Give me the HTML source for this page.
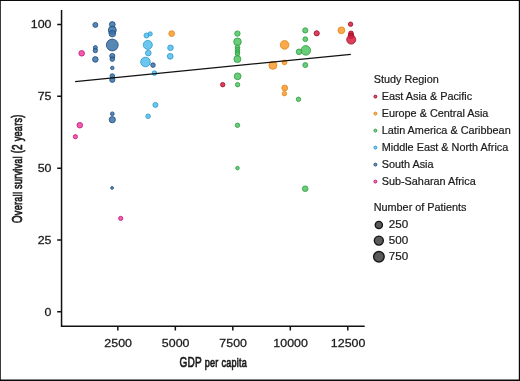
<!DOCTYPE html>
<html><head><meta charset="utf-8">
<style>
html,body{margin:0;padding:0;background:#fff;}
body{width:520px;height:381px;overflow:hidden;}
svg{display:block;}
text{font-family:"Liberation Sans",sans-serif;fill:#1a1a1a;}
#w{will-change:transform;width:520px;height:381px;}
.tk{font-size:11px;stroke:#1a1a1a;stroke-width:0.25px;}
.lg{font-size:10.85px;stroke:#1a1a1a;stroke-width:0.2px;}
.ln{font-size:11px;}
.ax{font-size:13.4px;stroke:#1a1a1a;stroke-width:0.7px;letter-spacing:0.35px;}
</style></head><body>
<div id="w">
<svg width="520" height="381" viewBox="0 0 520 381">
<rect x="0" y="0" width="520" height="381" fill="#fff"/>
<path d="M0 0H520V1.1H0Z M0 0H0.8V381H0Z M0 379.5H520V381H0Z M518.8 0H520V381H518.8Z" fill="#0a0a0a"/>
<!-- axes -->
<path d="M61.55 10 V326.25 H364.7" fill="none" stroke="#111" stroke-width="1.5"/>
<g stroke="#111" stroke-width="1.5">
<path d="M57.2 24.57 H61.6 M57.2 96.36 H61.6 M57.2 168.15 H61.6 M57.2 239.94 H61.6 M57.2 311.73 H61.6"/>
<path d="M117.85 326.2 V330.6 M175.34 326.2 V330.6 M232.83 326.2 V330.6 M290.31 326.2 V330.6 M347.8 326.2 V330.6"/>
</g>
<g class="tk" text-anchor="end">
<text transform="translate(51.5 28.47) scale(1.13 1)">100</text>
<text transform="translate(51.5 100.26) scale(1.13 1)">75</text>
<text transform="translate(51.5 172.05) scale(1.13 1)">50</text>
<text transform="translate(51.5 243.84) scale(1.13 1)">25</text>
<text transform="translate(51.5 315.63) scale(1.13 1)">0</text>
</g>
<g class="tk" text-anchor="middle">
<text transform="translate(118.15 347.35) scale(1.13 1)">2500</text>
<text transform="translate(175.64 347.35) scale(1.13 1)">5000</text>
<text transform="translate(233.13 347.35) scale(1.13 1)">7500</text>
<text transform="translate(290.61 347.35) scale(1.13 1)">10000</text>
<text transform="translate(348.10 347.35) scale(1.13 1)">12500</text>
</g>
<!-- axis titles -->
<text class="ax" text-anchor="middle" transform="translate(213.3 366.6) scale(0.68 1)"><tspan font-size="14.8">GDP</tspan> per capita</text>
<text class="ax" text-anchor="middle" transform="translate(21.6 168.8) rotate(-90) scale(0.684 1)"><tspan font-size="14.8">O</tspan>verall survival <tspan font-size="13.8">(</tspan><tspan font-size="14.8">2</tspan> years<tspan font-size="13.8">)</tspan></text>
<!-- points -->
<circle cx="81.7" cy="53.3" r="2.80" fill="#f0409f" fill-opacity="0.85" stroke="#c2157a" stroke-opacity="0.9" stroke-width="0.9"/>
<circle cx="79.8" cy="125.2" r="2.80" fill="#f0409f" fill-opacity="0.85" stroke="#c2157a" stroke-opacity="0.9" stroke-width="0.9"/>
<circle cx="75.4" cy="136.7" r="2.10" fill="#f0409f" fill-opacity="0.85" stroke="#c2157a" stroke-opacity="0.9" stroke-width="0.9"/>
<circle cx="120.7" cy="218.4" r="2.10" fill="#f0409f" fill-opacity="0.85" stroke="#c2157a" stroke-opacity="0.9" stroke-width="0.9"/>
<circle cx="95.35" cy="24.9" r="2.50" fill="#3972a7" fill-opacity="0.85" stroke="#1f4d7e" stroke-opacity="0.9" stroke-width="0.9"/>
<circle cx="95.35" cy="47.6" r="2.00" fill="#3972a7" fill-opacity="0.85" stroke="#1f4d7e" stroke-opacity="0.9" stroke-width="0.9"/>
<circle cx="95.35" cy="50.5" r="2.20" fill="#3972a7" fill-opacity="0.85" stroke="#1f4d7e" stroke-opacity="0.9" stroke-width="0.9"/>
<circle cx="95.35" cy="59.4" r="2.80" fill="#3972a7" fill-opacity="0.85" stroke="#1f4d7e" stroke-opacity="0.9" stroke-width="0.9"/>
<circle cx="112.3" cy="24.5" r="2.90" fill="#3972a7" fill-opacity="0.85" stroke="#1f4d7e" stroke-opacity="0.9" stroke-width="0.9"/>
<circle cx="112.3" cy="30.2" r="4.00" fill="#3972a7" fill-opacity="0.85" stroke="#1f4d7e" stroke-opacity="0.9" stroke-width="0.9"/>
<circle cx="112.3" cy="33.6" r="3.30" fill="#3972a7" fill-opacity="0.85" stroke="#1f4d7e" stroke-opacity="0.9" stroke-width="0.9"/>
<circle cx="112.3" cy="45.0" r="5.90" fill="#3972a7" fill-opacity="0.85" stroke="#1f4d7e" stroke-opacity="0.9" stroke-width="0.9"/>
<circle cx="112.3" cy="56.0" r="2.60" fill="#3972a7" fill-opacity="0.85" stroke="#1f4d7e" stroke-opacity="0.9" stroke-width="0.9"/>
<circle cx="112.3" cy="59.1" r="2.30" fill="#3972a7" fill-opacity="0.85" stroke="#1f4d7e" stroke-opacity="0.9" stroke-width="0.9"/>
<circle cx="112.3" cy="67.9" r="1.75" fill="#3972a7" fill-opacity="0.85" stroke="#1f4d7e" stroke-opacity="0.9" stroke-width="0.9"/>
<circle cx="112.3" cy="76.0" r="2.30" fill="#3972a7" fill-opacity="0.85" stroke="#1f4d7e" stroke-opacity="0.9" stroke-width="0.9"/>
<circle cx="112.3" cy="79.8" r="2.60" fill="#3972a7" fill-opacity="0.85" stroke="#1f4d7e" stroke-opacity="0.9" stroke-width="0.9"/>
<circle cx="112.3" cy="113.8" r="1.90" fill="#3972a7" fill-opacity="0.85" stroke="#1f4d7e" stroke-opacity="0.9" stroke-width="0.9"/>
<circle cx="112.3" cy="119.7" r="3.10" fill="#3972a7" fill-opacity="0.85" stroke="#1f4d7e" stroke-opacity="0.9" stroke-width="0.9"/>
<circle cx="112.1" cy="187.9" r="1.40" fill="#3972a7" fill-opacity="0.85" stroke="#1f4d7e" stroke-opacity="0.9" stroke-width="0.9"/>
<circle cx="153.0" cy="65.1" r="2.30" fill="#3972a7" fill-opacity="0.85" stroke="#1f4d7e" stroke-opacity="0.9" stroke-width="0.9"/>
<circle cx="146.5" cy="35.5" r="2.50" fill="#52bdec" fill-opacity="0.85" stroke="#2a98cf" stroke-opacity="0.9" stroke-width="0.9"/>
<circle cx="150.2" cy="33.9" r="2.10" fill="#52bdec" fill-opacity="0.85" stroke="#2a98cf" stroke-opacity="0.9" stroke-width="0.9"/>
<circle cx="147.8" cy="44.9" r="4.50" fill="#52bdec" fill-opacity="0.85" stroke="#2a98cf" stroke-opacity="0.9" stroke-width="0.9"/>
<circle cx="148.3" cy="53.1" r="2.80" fill="#52bdec" fill-opacity="0.85" stroke="#2a98cf" stroke-opacity="0.9" stroke-width="0.9"/>
<circle cx="145.5" cy="62.0" r="4.80" fill="#52bdec" fill-opacity="0.85" stroke="#2a98cf" stroke-opacity="0.9" stroke-width="0.9"/>
<circle cx="154.4" cy="73.1" r="2.30" fill="#52bdec" fill-opacity="0.85" stroke="#2a98cf" stroke-opacity="0.9" stroke-width="0.9"/>
<circle cx="170.5" cy="47.8" r="2.80" fill="#52bdec" fill-opacity="0.85" stroke="#2a98cf" stroke-opacity="0.9" stroke-width="0.9"/>
<circle cx="170.2" cy="56.3" r="2.90" fill="#52bdec" fill-opacity="0.85" stroke="#2a98cf" stroke-opacity="0.9" stroke-width="0.9"/>
<circle cx="155.4" cy="104.9" r="2.50" fill="#52bdec" fill-opacity="0.85" stroke="#2a98cf" stroke-opacity="0.9" stroke-width="0.9"/>
<circle cx="148.1" cy="116.3" r="2.30" fill="#52bdec" fill-opacity="0.85" stroke="#2a98cf" stroke-opacity="0.9" stroke-width="0.9"/>
<circle cx="171.7" cy="33.6" r="2.90" fill="#f99a2c" fill-opacity="0.85" stroke="#e08418" stroke-opacity="0.9" stroke-width="0.9"/>
<circle cx="284.6" cy="44.9" r="4.30" fill="#f99a2c" fill-opacity="0.85" stroke="#e08418" stroke-opacity="0.9" stroke-width="0.9"/>
<circle cx="272.9" cy="65.3" r="4.00" fill="#f99a2c" fill-opacity="0.85" stroke="#e08418" stroke-opacity="0.9" stroke-width="0.9"/>
<circle cx="284.5" cy="62.4" r="2.40" fill="#f99a2c" fill-opacity="0.85" stroke="#e08418" stroke-opacity="0.9" stroke-width="0.9"/>
<circle cx="284.7" cy="88.0" r="2.90" fill="#f99a2c" fill-opacity="0.85" stroke="#e08418" stroke-opacity="0.9" stroke-width="0.9"/>
<circle cx="284.4" cy="93.7" r="2.20" fill="#f99a2c" fill-opacity="0.85" stroke="#e08418" stroke-opacity="0.9" stroke-width="0.9"/>
<circle cx="341.4" cy="30.3" r="3.40" fill="#f99a2c" fill-opacity="0.85" stroke="#e08418" stroke-opacity="0.9" stroke-width="0.9"/>
<circle cx="237.4" cy="33.6" r="2.70" fill="#4fc461" fill-opacity="0.85" stroke="#2f9c42" stroke-opacity="0.9" stroke-width="0.9"/>
<circle cx="237.5" cy="41.8" r="3.80" fill="#4fc461" fill-opacity="0.85" stroke="#2f9c42" stroke-opacity="0.9" stroke-width="0.9"/>
<circle cx="237.5" cy="47.2" r="2.30" fill="#4fc461" fill-opacity="0.85" stroke="#2f9c42" stroke-opacity="0.9" stroke-width="0.9"/>
<circle cx="237.5" cy="49.6" r="2.30" fill="#4fc461" fill-opacity="0.85" stroke="#2f9c42" stroke-opacity="0.9" stroke-width="0.9"/>
<circle cx="237.5" cy="52.0" r="2.30" fill="#4fc461" fill-opacity="0.85" stroke="#2f9c42" stroke-opacity="0.9" stroke-width="0.9"/>
<circle cx="237.5" cy="53.8" r="2.20" fill="#4fc461" fill-opacity="0.85" stroke="#2f9c42" stroke-opacity="0.9" stroke-width="0.9"/>
<circle cx="237.4" cy="59.1" r="3.50" fill="#4fc461" fill-opacity="0.85" stroke="#2f9c42" stroke-opacity="0.9" stroke-width="0.9"/>
<circle cx="237.6" cy="76.3" r="3.40" fill="#4fc461" fill-opacity="0.85" stroke="#2f9c42" stroke-opacity="0.9" stroke-width="0.9"/>
<circle cx="237.6" cy="84.7" r="2.20" fill="#4fc461" fill-opacity="0.85" stroke="#2f9c42" stroke-opacity="0.9" stroke-width="0.9"/>
<circle cx="237.5" cy="125.3" r="2.20" fill="#4fc461" fill-opacity="0.85" stroke="#2f9c42" stroke-opacity="0.9" stroke-width="0.9"/>
<circle cx="237.5" cy="168.1" r="1.80" fill="#4fc461" fill-opacity="0.85" stroke="#2f9c42" stroke-opacity="0.9" stroke-width="0.9"/>
<circle cx="305.3" cy="30.4" r="2.60" fill="#4fc461" fill-opacity="0.85" stroke="#2f9c42" stroke-opacity="0.9" stroke-width="0.9"/>
<circle cx="305.3" cy="39.2" r="2.40" fill="#4fc461" fill-opacity="0.85" stroke="#2f9c42" stroke-opacity="0.9" stroke-width="0.9"/>
<circle cx="305.8" cy="50.4" r="4.80" fill="#4fc461" fill-opacity="0.85" stroke="#2f9c42" stroke-opacity="0.9" stroke-width="0.9"/>
<circle cx="299.0" cy="51.8" r="2.80" fill="#4fc461" fill-opacity="0.85" stroke="#2f9c42" stroke-opacity="0.9" stroke-width="0.9"/>
<circle cx="305.3" cy="65.1" r="2.50" fill="#4fc461" fill-opacity="0.85" stroke="#2f9c42" stroke-opacity="0.9" stroke-width="0.9"/>
<circle cx="298.5" cy="99.3" r="2.20" fill="#4fc461" fill-opacity="0.85" stroke="#2f9c42" stroke-opacity="0.9" stroke-width="0.9"/>
<circle cx="305.2" cy="188.7" r="2.80" fill="#4fc461" fill-opacity="0.85" stroke="#2f9c42" stroke-opacity="0.9" stroke-width="0.9"/>
<circle cx="222.7" cy="84.7" r="2.20" fill="#d81c3c" fill-opacity="0.85" stroke="#980c28" stroke-opacity="0.9" stroke-width="0.9"/>
<circle cx="316.7" cy="33.3" r="2.60" fill="#d81c3c" fill-opacity="0.85" stroke="#980c28" stroke-opacity="0.9" stroke-width="0.9"/>
<circle cx="350.6" cy="24.2" r="2.20" fill="#d81c3c" fill-opacity="0.85" stroke="#980c28" stroke-opacity="0.9" stroke-width="0.9"/>
<circle cx="351.0" cy="33.4" r="2.40" fill="#d81c3c" fill-opacity="0.85" stroke="#980c28" stroke-opacity="0.9" stroke-width="0.9"/>
<circle cx="351.0" cy="35.8" r="2.80" fill="#d81c3c" fill-opacity="0.85" stroke="#980c28" stroke-opacity="0.9" stroke-width="0.9"/>
<circle cx="351.2" cy="39.6" r="4.50" fill="#d81c3c" fill-opacity="0.85" stroke="#980c28" stroke-opacity="0.9" stroke-width="0.9"/>
<!-- regression line -->
<path d="M75.15 81.7 L350.8 54.3" stroke="#111" stroke-width="1.25" fill="none"/>
<!-- legend -->
<text x="373.7" y="82.9" class="lg">Study Region</text>
<circle cx="375.4" cy="96.60" r="1.45" fill="#d81c3c" fill-opacity="0.75" stroke="#980c28" stroke-width="1"/>
<text x="381.7" y="99.95" class="lg">East Asia &amp; Pacific</text>
<circle cx="375.4" cy="113.60" r="1.45" fill="#f99a2c" fill-opacity="0.75" stroke="#e08418" stroke-width="1"/>
<text x="381.7" y="116.95" class="lg">Europe &amp; Central Asia</text>
<circle cx="375.4" cy="130.60" r="1.45" fill="#4fc461" fill-opacity="0.75" stroke="#2f9c42" stroke-width="1"/>
<text x="381.7" y="133.95" class="lg">Latin America &amp; Caribbean</text>
<circle cx="375.4" cy="147.60" r="1.45" fill="#52bdec" fill-opacity="0.75" stroke="#2a98cf" stroke-width="1"/>
<text x="381.7" y="150.95" class="lg">Middle East &amp; North Africa</text>
<circle cx="375.4" cy="164.60" r="1.45" fill="#3972a7" fill-opacity="0.75" stroke="#1f4d7e" stroke-width="1"/>
<text x="381.7" y="167.95" class="lg">South Asia</text>
<circle cx="375.4" cy="181.60" r="1.45" fill="#f0409f" fill-opacity="0.75" stroke="#c2157a" stroke-width="1"/>
<text x="381.7" y="184.95" class="lg">Sub-Saharan Africa</text>
<text x="373.7" y="210.9" class="lg">Number of Patients</text>
<g fill="#5a5a5a" stroke="#151515" stroke-width="1.4">
<circle cx="378.85" cy="224.95" r="3.6"/>
<circle cx="378.85" cy="240.6" r="4.5"/>
<circle cx="378.9" cy="256.75" r="5.25"/>
</g>
<text transform="translate(388.7 228.0) scale(1.06 1)" class="lg ln">250</text>
<text transform="translate(388.7 243.65) scale(1.06 1)" class="lg ln">500</text>
<text transform="translate(388.7 260.0) scale(1.06 1)" class="lg ln">750</text>
</svg>
</div>
</body></html>
